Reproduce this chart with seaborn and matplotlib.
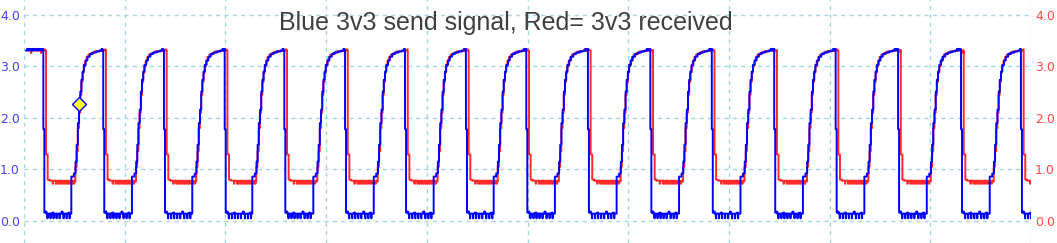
import matplotlib
matplotlib.use("Agg")
import matplotlib.pyplot as plt
import seaborn as sns
import pandas as pd

# ---------------- data ----------------
# time axis: 10 units per grid division (10 divisions shown)
TITLE = "Blue 3v3 send signal, Red= 3v3 received"
Y_TICKS = [0.0, 1.0, 2.0, 3.0, 4.0]
Y_LABELS = ["0.0", "1.0", "2.0", "3.0", "4.0"]

# blue (sent) falling-edge times and rising-edge times
FALL = [1.92, 7.87, 13.90, 19.93, 25.85, 31.88, 37.84, 43.89, 49.88,
        56.0, 62.2, 68.3, 74.5, 80.6, 86.8, 93.05, 99.0]
RISE = [4.70, 10.72, 16.71, 22.67, 28.73, 34.73, 40.68, 46.64, 52.72,
        58.85, 65.05, 71.15, 77.35, 83.45, 89.65, 95.9]

HIGH = 3.31          # logic high level
BLUE_MID = 1.78      # blue value for one sample during fall
RED_MID = 1.29       # red value during its fall
BLUE_LOW = 0.14
RED_LOW = 0.78

# blue rising curve, offsets from rise start / values
BLUE_RISE_DT = [0.0, 0.25, 0.42, 0.53, 0.65, 0.77, 0.89, 1.0, 1.12, 1.24,
                1.42, 1.6, 1.83, 2.1, 2.45, 2.8]
BLUE_RISE_V = [0.86, 0.92, 1.15, 1.48, 1.90, 2.16, 2.51, 2.74, 2.90, 3.03,
               3.12, 3.19, 3.24, 3.27, 3.29, 3.31]
# red rising curve (received, slightly delayed)
RED_RISE_DT = [0.4, 0.52, 0.64, 0.76, 0.88, 1.0, 1.12, 1.24, 1.36,
               1.52, 1.7, 1.95, 2.25, 2.6, 3.0]
RED_RISE_V = [1.05, 1.35, 1.80, 2.10, 2.45, 2.70, 2.88, 3.00, 3.10,
              3.18, 3.23, 3.26, 3.29, 3.30, 3.31]
RED_DELAY = 0.27     # red falls this long after blue
RED_STEP = 0.16      # duration of red intermediate level

# sampled noise (1 sample = 0.1 units) on the flat parts
BLUE_LOW_NOISE = [0.16, 0.18, 0.14, 0.05, 0.14, 0.14, 0.05, 0.14, 0.16, 0.05,
                  0.14, 0.14, 0.05, 0.14, 0.14, 0.05, 0.14, 0.18, 0.14, 0.05,
                  0.14, 0.14, 0.05, 0.14, 0.16, 0.05, 0.14, 0.14]
RED_LOW_NOISE = [0.80, 0.80, 0.78, 0.78, 0.78, 0.72, 0.78, 0.78, 0.72, 0.76,
                 0.72, 0.78, 0.72, 0.74, 0.72, 0.76, 0.72, 0.74, 0.72, 0.78,
                 0.72, 0.74, 0.72, 0.76, 0.72, 0.74, 0.72, 0.76, 0.78, 0.78]
BLUE_HIGH_NOISE = [3.31, 3.34, 3.31, 3.34, 3.33, 3.31, 3.34, 3.31, 3.33, 3.34]
RED_HIGH_NOISE = [3.31, 3.31, 3.33, 3.31, 3.31, 3.26, 3.31, 3.31, 3.33, 3.31]

MARKER_T, MARKER_V = 5.46, 2.27
T_START, T_END = 0.2, 100.7

# ---------------- build step traces ----------------
def noisy(t0, t1, base, noise, ts, vs):
    k = 0
    t = t0
    while t < t1 - 1e-9:
        v = noise[k % len(noise)]
        ts.append(t); vs.append(v)
        if abs(v - base) > 0.05:
            ts.append(min(t + 0.03, t1)); vs.append(base)
        t += 0.1
        k += 1


def build(blue):
    ts, vs = [], []
    hn = BLUE_HIGH_NOISE if blue else RED_HIGH_NOISE
    d = 0.0 if blue else RED_DELAY
    noisy(T_START, FALL[0] + d, HIGH, hn, ts, vs)
    for i, f in enumerate(FALL):
        rise = RISE[i] if i < len(RISE) else T_END
        if blue:
            ts.append(f); vs.append(BLUE_MID)
            noisy(f + 0.1, rise, BLUE_LOW, BLUE_LOW_NOISE, ts, vs)
            dts, rv = BLUE_RISE_DT, BLUE_RISE_V
        else:
            ts.append(f + d); vs.append(RED_MID)
            end_low = min(rise + RED_RISE_DT[0], T_END)
            noisy(f + d + RED_STEP, end_low, RED_LOW, RED_LOW_NOISE, ts, vs)
            dts, rv = RED_RISE_DT, RED_RISE_V
        if i < len(RISE):
            for dt, v in zip(dts, rv):
                ts.append(rise + dt); vs.append(v)
            nxt = FALL[i + 1] + d if i + 1 < len(FALL) else T_END
            noisy(rise + dts[-1] + 0.1, nxt, HIGH, hn, ts, vs)
    ts.append(T_END); vs.append(vs[-1])
    keep = [(a, b) for a, b in zip(ts, vs) if a <= T_END]
    return pd.DataFrame(keep, columns=["t", "v"])


blue_df = build(True)
red_df = build(False)

# ---------------- figure ----------------
sns.set_theme(style="white")
plt.rcParams["font.family"] = ["DejaVu Sans"]
fig = plt.figure(figsize=(10.57, 2.43), dpi=100)
ax = fig.add_axes([24 / 1057, 0.0, 1007 / 1057, 1.0])

grid_c = "#a6d8e2"
for gx in range(0, 101, 10):
    ax.axvline(gx, color=grid_c, lw=1.0, ls=(0, (3, 3)), zorder=0)
for gy in Y_TICKS:
    ax.axhline(gy, color=grid_c, lw=1.0, ls=(0, (3, 3)), zorder=0)

sns.lineplot(data=red_df, x="t", y="v", ax=ax, color="#ff2a2a", lw=1.4,
             drawstyle="steps-post", sort=False, estimator=None, zorder=2)
sns.lineplot(data=blue_df, x="t", y="v", ax=ax, color="#0000ff", lw=1.4,
             drawstyle="steps-post", sort=False, estimator=None, zorder=3)
ax.plot([MARKER_T], [MARKER_V], marker="D", ms=7.5, mfc="#ffff30",
        mec="#0000ff", mew=1.0, zorder=4)

ax.set_xlim(0, 100)
ax.set_ylim(-0.43, 4.29)
ax.set_xticks([])
ax.set_yticks(Y_TICKS)
ax.set_yticklabels(Y_LABELS, color="#4444f4", fontsize=9)
ax.tick_params(axis="y", length=0, pad=3)
ax.set_xlabel("")
ax.set_ylabel("")
for s in ax.spines.values():
    s.set_visible(False)

ax2 = ax.twinx()
ax2.set_ylim(-0.43, 4.29)
ax2.set_yticks(Y_TICKS)
ax2.set_yticklabels(Y_LABELS, color="#ff4848", fontsize=9)
ax2.tick_params(axis="y", length=0, pad=3)
for s in ax2.spines.values():
    s.set_visible(False)

ax.text(0.478, 0.905, TITLE, transform=ax.transAxes, ha="center", va="center",
        fontsize=18, color="#404040", family=["Liberation Sans", "DejaVu Sans"],
        zorder=5)

fig.savefig("out.png", dpi=100)
